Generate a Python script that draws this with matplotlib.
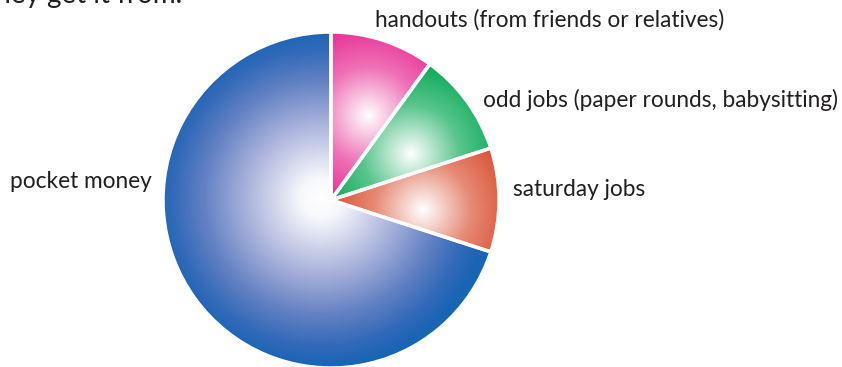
import numpy as np
import matplotlib
matplotlib.use("Agg")
import matplotlib.pyplot as plt
from matplotlib.colors import LinearSegmentedColormap, to_rgb, to_hex

# data (counter-clockwise from 12 o'clock)
categories = ["pocket money", "saturday jobs",
              "odd jobs (paper rounds, babysitting)",
              "handouts (from friends or relatives)"]
values = [70, 10, 10, 10]
colors = ["#1a64b4", "#d84a2b", "#00a650", "#e6258e"]

# label positions in pixels (left x, centre y from top)
label_pos = [(10, 181), (513, 190), (483, 100), (375, 20)]

W, H = 842, 367
fig = plt.figure(figsize=(W / 100, H / 100), dpi=100)
ax = fig.add_axes([0, 0, 1, 1])

R = 168
cx, cy = 331, H - 200
wedges, _ = ax.pie(values, colors=colors, startangle=90, counterclock=True,
                   radius=R, center=(cx, cy), explode=[0, 0.022, 0.022, 0.022],
                   wedgeprops=dict(edgecolor="white", linewidth=2.5))

ax.set_xlim(0, W)
ax.set_ylim(0, H)
ax.set_aspect("auto")
ax.axis("off")

# radial gradient fill clipped to each wedge
xx, yy = np.meshgrid(np.arange(W) + 0.5, np.arange(H) + 0.5)
for i, w in enumerate(wedges):
    col = colors[i]
    if i == 0:
        gx, gy = cx - 10, cy + 2
        gr = R
        cmap = LinearSegmentedColormap.from_list(
            "b", [(0, "#ffffff"), (0.12, "#f7f8fc"), (0.45, "#a8b1db"),
                  (0.7, "#6281c3"), (0.88, "#336ab9"), (1, col)])
    else:
        th1, th2 = np.radians(w.theta1), np.radians(w.theta2)
        mid = (th1 + th2) / 2 - np.radians(6)
        tx, ty = w.center
        gx = tx + 0.55 * R * np.cos(mid)
        gy = ty + 0.55 * R * np.sin(mid)
        gr = 0.58 * R
        midcol = to_hex(0.35 * np.ones(3) + 0.65 * np.array(to_rgb(col)))
        cmap = LinearSegmentedColormap.from_list(
            "s", [(0, "#ffffff"), (0.5, midcol), (1, col)])
    t = np.clip(np.hypot(xx - gx, yy - gy) / gr, 0, 1)
    im = ax.imshow(t, cmap=cmap, vmin=0, vmax=1, extent=(0, W, 0, H),
                   origin="lower", interpolation="bilinear", zorder=1)
    im.set_clip_path(w)
    w.set_facecolor("none")
    w.set_zorder(2)

for name, (lx, ly) in zip(categories, label_pos):
    ax.text(lx, H - ly, name, fontsize=16.3, family="Lato", color="#231f20",
            ha="left", va="center", zorder=3)

# cut-off heading from the page above
ax.text(182, H - 3, "where they get it from.", fontsize=20, family="Lato",
        color="#231f20", ha="right", va="baseline", zorder=3, clip_on=False)

fig.savefig("out.png", dpi=100)
